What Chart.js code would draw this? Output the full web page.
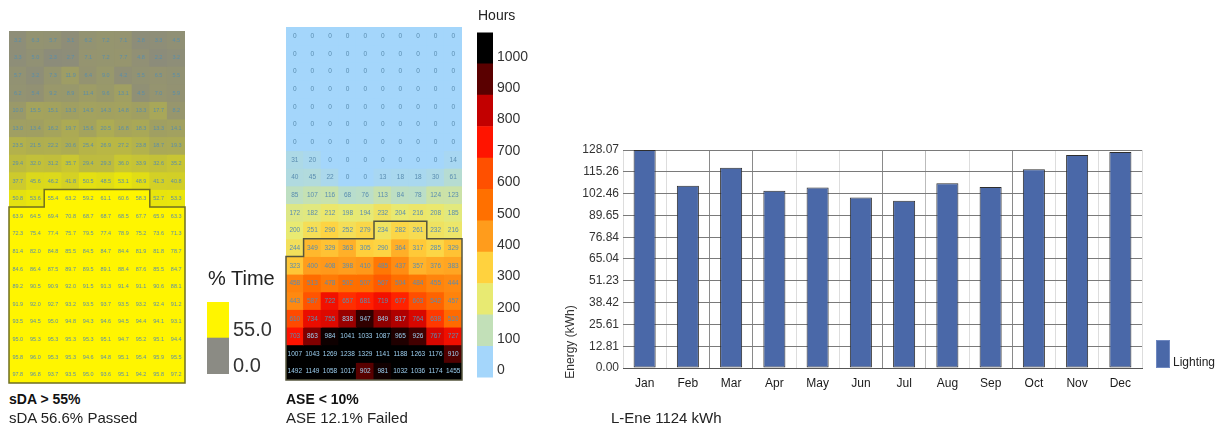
<!DOCTYPE html>
<html><head><meta charset="utf-8">
<script src="https://cdn.jsdelivr.net/npm/chart.js@4.4.1/dist/chart.umd.min.js"></script>
<style>
body{margin:0;width:1224px;height:429px;background:#fff;position:relative;overflow:hidden;font-family:"Liberation Sans",Arial,sans-serif;color:#222}
.box{position:absolute}
canvas{display:block}
.t{position:absolute;white-space:nowrap;line-height:1}
</style></head><body>
<div class="box" style="left:7px;top:29px;width:180px;height:356px"><canvas id="sda"></canvas></div>
<div class="box" style="left:200px;top:286px;width:76px;height:104px"><canvas id="timeLeg"></canvas></div>
<div class="box" style="left:284px;top:25px;width:180px;height:357px"><canvas id="ase"></canvas></div>
<div class="box" style="left:470px;top:20px;width:64px;height:370px"><canvas id="hours"></canvas></div>
<div class="box" style="left:560px;top:130px;width:664px;height:270px"><canvas id="energy"></canvas></div>

<div class="t" style="left:208px;top:268px;font-size:20px;color:#222">% Time</div>
<div class="t" style="left:478px;top:8px;font-size:14px;color:#222">Hours</div>
<div class="t" style="left:9px;top:392px;font-size:14px;font-weight:bold;color:#111">sDA &gt; 55%</div>
<div class="t" style="left:9px;top:410px;font-size:15px;color:#222">sDA 56.6% Passed</div>
<div class="t" style="left:286px;top:392px;font-size:14px;font-weight:bold;color:#111">ASE &lt; 10%</div>
<div class="t" style="left:286px;top:410px;font-size:15px;color:#222">ASE 12.1% Failed</div>
<div class="t" style="left:611px;top:410px;font-size:15px;color:#222">L-Ene 1124 kWh</div>

<script>
// ---------------- data ----------------
const colLabels = ['1','2','3','4','5','6','7','8','9','10'];

const sdaRows = [
  [3.2, 6.3, 5.7, 3.1, 6.2, 7.2, 7.1, 2.8, 3.3, 4.5],
  [3.3, 5.0, 2.3, 2.7, 7.1, 7.2, 7.7, 4.8, 2.2, 3.2],
  [5.7, 3.2, 7.3, 11.9, 6.4, 9.0, 4.2, 5.5, 6.5, 5.5],
  [6.2, 5.4, 9.2, 8.9, 11.4, 9.6, 13.1, 4.5, 7.0, 5.9],
  [10.0, 15.5, 15.1, 13.3, 14.9, 14.3, 14.8, 13.3, 17.7, 8.2],
  [13.0, 13.4, 16.2, 19.7, 15.6, 20.5, 16.8, 18.3, 13.3, 14.1],
  [23.5, 21.5, 22.2, 20.6, 25.4, 26.9, 27.2, 23.8, 18.7, 19.3],
  [29.4, 32.0, 31.2, 35.7, 29.4, 29.3, 36.0, 33.9, 32.6, 35.2],
  [37.7, 45.6, 46.2, 41.8, 50.5, 48.5, 53.1, 48.9, 41.3, 40.8],
  [50.8, 53.6, 55.4, 63.2, 59.2, 61.1, 60.6, 58.3, 52.7, 53.3],
  [63.9, 64.5, 69.4, 70.8, 68.7, 68.7, 68.5, 67.7, 65.9, 63.3],
  [72.3, 75.4, 77.4, 75.7, 79.5, 77.4, 78.9, 75.2, 73.6, 71.3],
  [81.4, 82.0, 84.8, 85.5, 84.5, 84.7, 84.4, 81.9, 81.8, 78.7],
  [84.6, 86.4, 87.5, 89.7, 89.5, 89.1, 88.4, 87.6, 85.5, 84.7],
  [89.2, 90.5, 90.9, 92.0, 91.5, 91.3, 91.4, 91.1, 90.6, 88.1],
  [91.9, 92.0, 92.7, 93.2, 93.5, 93.7, 93.5, 93.2, 92.4, 91.2],
  [93.5, 94.5, 95.0, 94.8, 94.3, 94.6, 94.5, 94.4, 94.1, 93.1],
  [95.0, 95.3, 95.3, 95.3, 95.3, 95.1, 94.7, 95.2, 95.1, 94.4],
  [95.8, 96.0, 95.3, 95.3, 94.6, 94.8, 95.1, 95.4, 95.9, 95.5],
  [97.8, 96.8, 93.7, 93.5, 95.0, 93.6, 95.1, 94.2, 95.8, 97.2]
];
// first row (0-based) of the passing region per column
const sdaContourTop = [10, 10, 9, 9, 9, 9, 9, 9, 10, 10];

const aseRows = [
  [0, 0, 0, 0, 0, 0, 0, 0, 0, 0],
  [0, 0, 0, 0, 0, 0, 0, 0, 0, 0],
  [0, 0, 0, 0, 0, 0, 0, 0, 0, 0],
  [0, 0, 0, 0, 0, 0, 0, 0, 0, 0],
  [0, 0, 0, 0, 0, 0, 0, 0, 0, 0],
  [0, 0, 0, 0, 0, 0, 0, 0, 0, 0],
  [0, 0, 0, 0, 0, 0, 0, 0, 0, 0],
  [31, 20, 0, 0, 0, 0, 0, 0, 0, 14],
  [40, 45, 22, 0, 0, 13, 18, 18, 30, 61],
  [85, 107, 116, 68, 76, 113, 84, 78, 124, 123],
  [172, 182, 212, 198, 194, 232, 204, 216, 208, 185],
  [200, 251, 290, 252, 279, 234, 282, 261, 232, 216],
  [244, 349, 329, 363, 305, 290, 364, 317, 285, 329],
  [323, 400, 408, 398, 410, 485, 437, 357, 376, 383],
  [458, 513, 478, 502, 507, 567, 504, 484, 455, 444],
  [443, 587, 722, 657, 681, 719, 677, 603, 542, 457],
  [610, 734, 755, 838, 947, 849, 817, 764, 638, 520],
  [703, 863, 984, 1041, 1033, 1087, 965, 926, 767, 727],
  [1007, 1043, 1269, 1238, 1329, 1141, 1188, 1263, 1176, 910],
  [1492, 1149, 1058, 1017, 902, 981, 1032, 1036, 1174, 1455]
];
const aseContourTop = [13, 12, 12, 12, 12, 11, 11, 11, 12, 12];

const hourBins = [0, 100, 200, 300, 400, 500, 600, 700, 800, 900, 1000, 1100];
const hourTicks = [0, 100, 200, 300, 400, 500, 600, 700, 800, 900, 1000];
const hourColors = ['#a4d6fb','#c2e0b8','#e8ea72','#ffd23e','#ff9c1c','#ff7000','#ff5000','#ff1400','#c20000','#5a0000','#000000'];

const timeBins = [0, 55, 110];
const timeTicks = [0, 55];
const timeColors = ['#8b8b84', '#fff500'];

const months = ['Jan','Feb','Mar','Apr','May','Jun','Jul','Aug','Sep','Oct','Nov','Dec'];
const lighting = [128.07, 107.1, 117.7, 104.2, 106.1, 100.1, 98.3, 108.5, 106.3, 116.7, 125.1, 126.9];
const yTickValues = [0, 12.81, 25.61, 38.42, 51.23, 64.04, 76.84, 89.65, 102.46, 115.26, 128.07];
const yTickLabels = ['0.00','12.81','25.61','38.42','51.23','65.04','76.84','89.65','102.46','115.26','128.07'];
const xGridColors = ['#dddddd','#dddddd','#8a8a8a','#8a8a8a','#dddddd','#dddddd','#8a8a8a','#bbbbbb','#dddddd','#8a8a8a','#dddddd','#dddddd','#777777'];

// ---------------- helpers ----------------
const FAM = '"Liberation Sans", Arial, sans-serif';
Chart.defaults.font.family = FAM;
Chart.defaults.animation = false;

function hex2rgb(h){ return [parseInt(h.substr(1,2),16), parseInt(h.substr(3,2),16), parseInt(h.substr(5,2),16)]; }
function mix(a, b, t){ const A = hex2rgb(a), B = hex2rgb(b);
  return 'rgb(' + A.map((v,i)=>Math.round(v + (B[i]-v)*t)).join(',') + ')'; }

function sdaColor(v){
  if (v >= 55) return '#fff500';
  return mix('#88887f', '#ece808', v / 55);
}
function aseColor(v){
  const s = Math.min(v, 1000) / 100;
  const i = Math.floor(s);
  if (i >= 10) return hourColors[10];
  return mix(hourColors[i], hourColors[i+1], s - i);
}

function heatChart(id, rows, colorFn, textColorFn, fmt, font, contourTop, contourColor){
  const datasets = rows.map((row, r) => ({
    data: row.map((v, c) => ({ x: colLabels[c], y: [r, r + 1], v: v })),
    backgroundColor: row.map(colorFn),
    borderWidth: 0, barPercentage: 1, categoryPercentage: 1, grouped: false, inflateAmount: 0.5
  }));
  const plugin = {
    id: 'cells',
    afterDatasetsDraw(chart){
      const ctx = chart.ctx, xs = chart.scales.x, ys = chart.scales.y;
      ctx.save();
      ctx.font = font; ctx.textAlign = 'center'; ctx.textBaseline = 'middle';
      chart.data.datasets.forEach((ds, i) => {
        chart.getDatasetMeta(i).data.forEach((el, j) => {
          const v = ds.data[j].v;
          ctx.fillStyle = textColorFn(v);
          ctx.fillText(fmt(v), el.x, (el.y + el.base) / 2 + 0.5);
        });
      });
      const half = (xs.getPixelForValue(1) - xs.getPixelForValue(0)) / 2;
      const n = contourTop.length;
      ctx.beginPath();
      ctx.moveTo(xs.getPixelForValue(0) - half, ys.getPixelForValue(contourTop[0]));
      for (let c = 0; c < n; c++){
        const yT = ys.getPixelForValue(contourTop[c]);
        ctx.lineTo(xs.getPixelForValue(c) - half, yT);
        ctx.lineTo(xs.getPixelForValue(c) + half, yT);
      }
      ctx.lineTo(xs.getPixelForValue(n - 1) + half, ys.getPixelForValue(rows.length));
      ctx.lineTo(xs.getPixelForValue(0) - half, ys.getPixelForValue(rows.length));
      ctx.closePath();
      ctx.strokeStyle = contourColor; ctx.lineWidth = 1.5; ctx.stroke();
      ctx.restore();
    }
  };
  return new Chart(document.getElementById(id), {
    type: 'bar',
    data: { labels: colLabels, datasets },
    options: {
      responsive: true, maintainAspectRatio: false,
      layout: { padding: 2 },
      plugins: { legend: { display: false }, tooltip: { enabled: false } },
      scales: {
        x: { type: 'category', display: false, offset: true },
        y: { type: 'linear', min: 0, max: rows.length, reverse: true, display: false }
      }
    },
    plugins: [plugin]
  });
}

heatChart('sda', sdaRows, sdaColor, () => '#5b8ea8', v => v.toFixed(1),
  '5.5px ' + FAM, sdaContourTop, '#6f6f22');
heatChart('ase', aseRows, aseColor, v => (v >= 800 ? '#9ccff0' : '#5a8db0'), v => String(v),
  '6.5px ' + FAM, aseContourTop, '#55553e');

// legend bar (colour scale)
function scaleBar(id, bins, colors, ticks, fmt, fontSize, offset, pad, axisWidth){
  const datasets = colors.map((c, k) => ({
    data: [[bins[k], bins[k + 1]]], backgroundColor: c, borderWidth: 0,
    barPercentage: 1, categoryPercentage: 1, grouped: false, inflateAmount: 0.3
  }));
  return new Chart(document.getElementById(id), {
    type: 'bar',
    data: { labels: [''], datasets },
    options: {
      responsive: true, maintainAspectRatio: false,
      layout: { padding: pad },
      plugins: { legend: { display: false }, tooltip: { enabled: false } },
      scales: {
        x: { display: false },
        y: {
          position: 'right', min: bins[0], max: bins[bins.length - 1],
          afterBuildTicks(s){ s.ticks = ticks.map(v => ({ value: v })); },
          afterFit(s){ s.width = axisWidth; },
          grid: { display: false, drawTicks: false },
          border: { display: false },
          ticks: { callback: v => fmt(v), font: { size: fontSize }, color: '#333', padding: 4, labelOffset: offset }
        }
      }
    }
  });
}
scaleBar('hours', hourBins, hourColors, hourTicks, v => String(v), 14, -7,
  { left: 7, top: 8, bottom: 10, right: 0 }, 41);
scaleBar('timeLeg', timeBins, timeColors, timeTicks, v => v.toFixed(1), 20, -8,
  { left: 7, top: 10, bottom: 7, right: 0 }, 47);

// energy bar chart
const energyExtras = {
  id: 'energyExtras',
  afterDraw(chart){
    const ctx = chart.ctx;
    ctx.save();
    ctx.fillStyle = '#333';
    ctx.font = '12px ' + FAM;
    ctx.translate(11, 212);
    ctx.rotate(-Math.PI / 2);
    ctx.textAlign = 'center'; ctx.textBaseline = 'middle';
    ctx.fillText('Energy (kWh)', 0, 0);
    ctx.restore();
    const ds = chart.data.datasets[0];
    ctx.save();
    ctx.fillStyle = ds.backgroundColor;
    ctx.fillRect(596, 210, 14, 28);
    ctx.strokeStyle = '#6f88c0'; ctx.lineWidth = 1;
    ctx.strokeRect(596.5, 210.5, 13, 27);
    ctx.fillStyle = '#222';
    ctx.font = '12px ' + FAM;
    ctx.textAlign = 'left'; ctx.textBaseline = 'middle';
    ctx.fillText(ds.label, 613, 233);
    ctx.restore();
  }
};

new Chart(document.getElementById('energy'), {
  type: 'bar',
  data: { labels: months, datasets: [{
    label: 'Lighting', data: lighting,
    backgroundColor: '#4a68a8', borderColor: '#2e2e2e', borderWidth: 1, borderSkipped: false,
    barPercentage: 0.51, categoryPercentage: 1
  }]},
  options: {
    responsive: true, maintainAspectRatio: false,
    layout: { padding: { top: 20, right: 82, left: 0, bottom: 0 } },
    plugins: { legend: { display: false }, tooltip: { enabled: false } },
    scales: {
      x: {
        grid: { offset: true, drawTicks: false, color: c => xGridColors[c.index] || '#ddd' },
        border: { display: true, color: '#555' },
        ticks: { font: { size: 12 }, color: '#1a1a1a', padding: 8 },
        afterFit(s){ s.height = 32; }
      },
      y: {
        min: 0, max: yTickValues[yTickValues.length - 1],
        afterBuildTicks(s){ s.ticks = yTickValues.map(v => ({ value: v })); },
        afterFit(s){ s.width = 63; },
        grid: { color: '#7a7a7a', drawTicks: false },
        border: { display: false },
        ticks: { callback: (v, i) => yTickLabels[i], font: { size: 12 }, color: '#333', padding: 4 }
      }
    }
  },
  plugins: [energyExtras]
});
</script>
</body></html>
